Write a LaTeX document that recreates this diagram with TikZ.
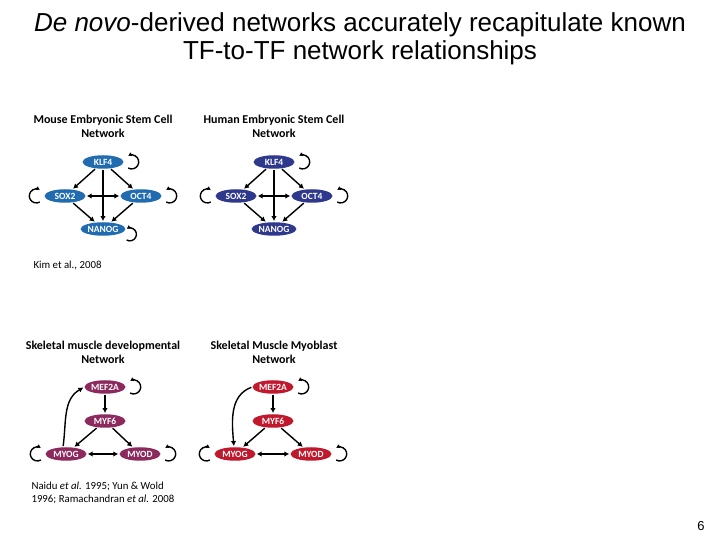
\documentclass[tikz,border=0pt]{standalone}
\usepackage{fontspec}
\setmainfont{Liberation Sans}
\newfontfamily\carlito{Carlito}
\usepackage{xcolor}
\usepackage{tikz}
\usetikzlibrary{arrows.meta,shapes.geometric}

\definecolor{mouseblue}{RGB}{33,108,176}
\definecolor{humanblue}{RGB}{46,56,140}
\definecolor{devmaroon}{RGB}{140,42,94}
\definecolor{myored}{RGB}{192,24,44}

\begin{document}
\begin{tikzpicture}[x=1pt,y=1pt,
    tf/.style={ellipse,minimum width=41pt,minimum height=13.5pt,inner sep=0.5pt,
               text=white,font=\carlito\bfseries\fontsize{9.5}{10}\selectfont},
    arr/.style={-{Latex[length=5pt,width=5.5pt]},line width=1.4pt,shorten >=1pt,shorten <=1pt},
    darr/.style={{Latex[length=5pt,width=5.5pt]}-{Latex[length=5pt,width=5.5pt]},line width=1.4pt,shorten >=1pt,shorten <=1pt},
    selfloop/.style={-{Latex[length=3.5pt,width=4.5pt]},line width=1.4pt},
    panel/.style={align=center,font=\carlito\bfseries\fontsize{12}{14}\selectfont},
    cite/.style={anchor=west,align=left,font=\carlito\fontsize{10.8}{13}\selectfont}]
  \useasboundingbox (0,0) rectangle (720,540);
  \fill[white] (0,0) rectangle (720,540);
  % ── Title ──────────────────────────────────────────
  \node[font=\fontsize{26}{28}\selectfont,align=center] (title) at (360,501.5)
    {\textit{De novo}-derived networks accurately recapitulate known\\TF-to-TF network relationships};
  % ── Mouse ES network ───────────────────────────────
  \node[panel] (mtitle) at (103,414) {Mouse Embryonic Stem Cell\\Network};
  \node[tf,fill=mouseblue] (mKLF) at (103,378) {KLF4};
  \node[tf,fill=mouseblue] (mSOX) at (65,344)  {SOX2};
  \node[tf,fill=mouseblue] (mOCT) at (141,344) {OCT4};
  \node[tf,fill=mouseblue] (mNAN) at (103,311) {NANOG};
  \draw[arr]  (mKLF) -- (mSOX);
  \draw[arr]  (mKLF) -- (mOCT);
  \draw[arr]  (mKLF) -- (mNAN);
  \draw[darr] (mSOX) -- (mOCT);
  \draw[arr]  (mSOX) -- (mNAN);
  \draw[arr]  (mOCT) -- (mNAN);
  % ── Human ES network ───────────────────────────────
  \node[panel] (htitle) at (274,414) {Human Embryonic Stem Cell\\Network};
  \node[tf,fill=humanblue] (hKLF) at (274,378) {KLF4};
  \node[tf,fill=humanblue] (hSOX) at (236,344) {SOX2};
  \node[tf,fill=humanblue] (hOCT) at (312,344) {OCT4};
  \node[tf,fill=humanblue] (hNAN) at (274,311) {NANOG};
  \draw[arr]  (hKLF) -- (hSOX);
  \draw[arr]  (hKLF) -- (hOCT);
  \draw[arr]  (hKLF) -- (hNAN);
  \draw[darr] (hSOX) -- (hOCT);
  \draw[arr]  (hSOX) -- (hNAN);
  \draw[arr]  (hOCT) -- (hNAN);
  \node[cite] (kim) at (30,275) {Kim et al., 2008};
  % ── Skeletal muscle developmental network ──────────
  \node[panel] (dtitle) at (103,188) {Skeletal muscle developmental\\Network};
  \node[tf,fill=devmaroon] (dMEF)  at (105,153) {MEF2A};
  \node[tf,fill=devmaroon] (dMYF)  at (105,119) {MYF6};
  \node[tf,fill=devmaroon] (dMYOG) at (66,86)   {MYOG};
  \node[tf,fill=devmaroon] (dMYOD) at (140,86)  {MYOD};
  \draw[arr]  (dMEF) -- (dMYF);
  \draw[arr]  (dMYF) -- (dMYOG);
  \draw[arr]  (dMYF) -- (dMYOD);
  \draw[darr] (dMYOG) -- (dMYOD);
  \draw[arr]  ([xshift=-3pt]dMYOG.north) to[out=82,in=210] (dMEF.west);
  % ── Skeletal muscle myoblast network ───────────────
  \node[panel] (btitle) at (274,188) {Skeletal Muscle Myoblast\\Network};
  \node[tf,fill=myored] (bMEF)  at (273,153) {MEF2A};
  \node[tf,fill=myored] (bMYF)  at (273,119) {MYF6};
  \node[tf,fill=myored] (bMYOG) at (235,86)  {MYOG};
  \node[tf,fill=myored] (bMYOD) at (311,86)  {MYOD};
  \draw[arr]  (bMEF) -- (bMYF);
  \draw[arr]  (bMYF) -- (bMYOG);
  \draw[arr]  (bMYF) -- (bMYOD);
  \draw[darr] (bMYOG) -- (bMYOD);
  \draw[arr]  (bMEF.west) to[out=200,in=95] ([xshift=-1pt]bMYOG.north);
  \node[cite] (naidu) at (28,47.5)
    {Naidu \textit{et al.} 1995; Yun \& Wold\\1996; Ramachandran \textit{et al.} 2008};
  % ── Self loops ─────────────────────────────────────
  \foreach \n in {mKLF,mOCT,hKLF,hOCT,dMEF,dMYOD,bMEF,bMYOD}
    \draw[selfloop] ([shift={(4.5pt,-6pt)}]\n.east) arc[start angle=-120,end angle=120,radius=7pt];
  \foreach \n in {mSOX,hSOX,dMYOG,bMYOG}
    \draw[selfloop] ([shift={(-4.5pt,-6pt)}]\n.west) arc[start angle=-60,end angle=-300,radius=7pt];
  \draw[selfloop] ([shift={(1pt,-11pt)}]mNAN.east) arc[start angle=-120,end angle=120,radius=6.5pt];
  % ── Page number ────────────────────────────────────
  \node[font=\fontsize{13}{15}\selectfont] (page) at (701,14) {6};
\end{tikzpicture}
\end{document}
